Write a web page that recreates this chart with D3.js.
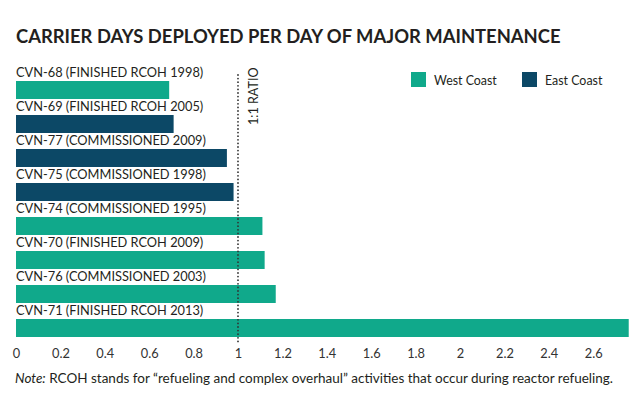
<!DOCTYPE html>
<html>
<head>
<meta charset="utf-8">
<script src="https://cdn.jsdelivr.net/npm/d3@7"></script>
<style>
  html, body { margin: 0; padding: 0; background: #fff; }
  svg { display: block; }
  text { font-family: Lato, "Open Sans", sans-serif; }
</style>
</head>
<body>
<svg id="chart" width="640" height="414"></svg>
<script>
// ---- data ----
const title = "CARRIER DAYS DEPLOYED PER DAY OF MAJOR MAINTENANCE";
const categories = [
  "CVN-68 (FINISHED RCOH 1998)",
  "CVN-69 (FINISHED RCOH 2005)",
  "CVN-77 (COMMISSIONED 2009)",
  "CVN-75 (COMMISSIONED 1998)",
  "CVN-74 (COMMISSIONED 1995)",
  "CVN-70 (FINISHED RCOH 2009)",
  "CVN-76 (COMMISSIONED 2003)",
  "CVN-71 (FINISHED RCOH 2013)"
];
const values = [0.69, 0.71, 0.95, 0.98, 1.11, 1.12, 1.17, 2.76];
const coasts = ["West Coast", "East Coast", "East Coast", "East Coast", "West Coast", "West Coast", "West Coast", "West Coast"];
const seriesNames = ["West Coast", "East Coast"];
const seriesColors = ["#10a98b", "#0c4866"];
const tickValues = [0, 0.2, 0.4, 0.6, 0.8, 1, 1.2, 1.4, 1.6, 1.8, 2, 2.2, 2.4, 2.6];
const ratioValue = 1;
const ratioLabel = "1:1 RATIO";
const noteLead = "Note:";
const noteText = " RCOH stands for \u201crefueling and complex overhaul\u201d activities that occur during reactor refueling.";

// ---- chart ----
const svg = d3.select("#chart");

const x = d3.scaleLinear().domain([0, 2.8]).range([16, 16 + 222 * 2.8]);
const y = d3.scaleBand().domain(categories).range([65, 65 + 34 * categories.length]).padding(0);
const color = d3.scaleOrdinal().domain(seriesNames).range(seriesColors);

// title
svg.append("text")
  .attr("x", 16).attr("y", 43)
  .attr("font-size", 18.4).attr("font-weight", 700)
  .attr("fill", "#231f20")
  .text(title);

// legend
const legend = svg.append("g");
const legendX = [411, 522];
seriesNames.forEach((s, i) => {
  legend.append("rect")
    .attr("x", legendX[i]).attr("y", 72)
    .attr("width", 15).attr("height", 15)
    .attr("fill", color(s));
  legend.append("text")
    .attr("x", legendX[i] + 23).attr("y", 84.5)
    .attr("font-size", 12.4).attr("fill", "#231f20")
    .text(s);
});

// bars
const rows = categories.map((c, i) => ({ c, v: values[i], coast: coasts[i] }));
const row = svg.append("g").selectAll("g").data(rows).join("g");
row.append("rect")
  .attr("x", x(0))
  .attr("y", d => y(d.c) + 16)
  .attr("width", d => x(d.v) - x(0))
  .attr("height", 18)
  .attr("fill", d => color(d.coast));
row.append("text")
  .attr("x", x(0))
  .attr("y", d => y(d.c) + 12.3)
  .attr("font-size", 12.8)
  .attr("fill", "#231f20")
  .text(d => d.c);

// ratio line
svg.append("line")
  .attr("x1", x(ratioValue)).attr("x2", x(ratioValue))
  .attr("y1", 75).attr("y2", 344)
  .attr("stroke", "#333")
  .attr("stroke-width", 1.8)
  .attr("stroke-linecap", "round")
  .attr("stroke-dasharray", "0,3.6");
svg.append("text")
  .attr("transform", `translate(${x(ratioValue) + 20},125) rotate(-90)`)
  .attr("font-size", 12.6)
  .attr("fill", "#231f20")
  .text(ratioLabel);

// axis
const axis = d3.axisBottom(x)
  .tickValues(tickValues)
  .tickFormat(d3.format("~g"))
  .tickSize(0)
  .tickPadding(9);
const gAxis = svg.append("g").attr("transform", "translate(0,340)").call(axis);
gAxis.select(".domain").remove();
gAxis.selectAll("text")
  .attr("font-size", 12.8)
  .attr("font-family", "Lato, 'Open Sans', sans-serif")
  .attr("fill", "#333");

// note
const note = svg.append("text")
  .attr("x", 15).attr("y", 382.5)
  .attr("font-size", 13.5)
  .attr("fill", "#231f20");
note.append("tspan").attr("font-style", "italic").text(noteLead);
note.append("tspan").text(noteText);
</script>
</body>
</html>
